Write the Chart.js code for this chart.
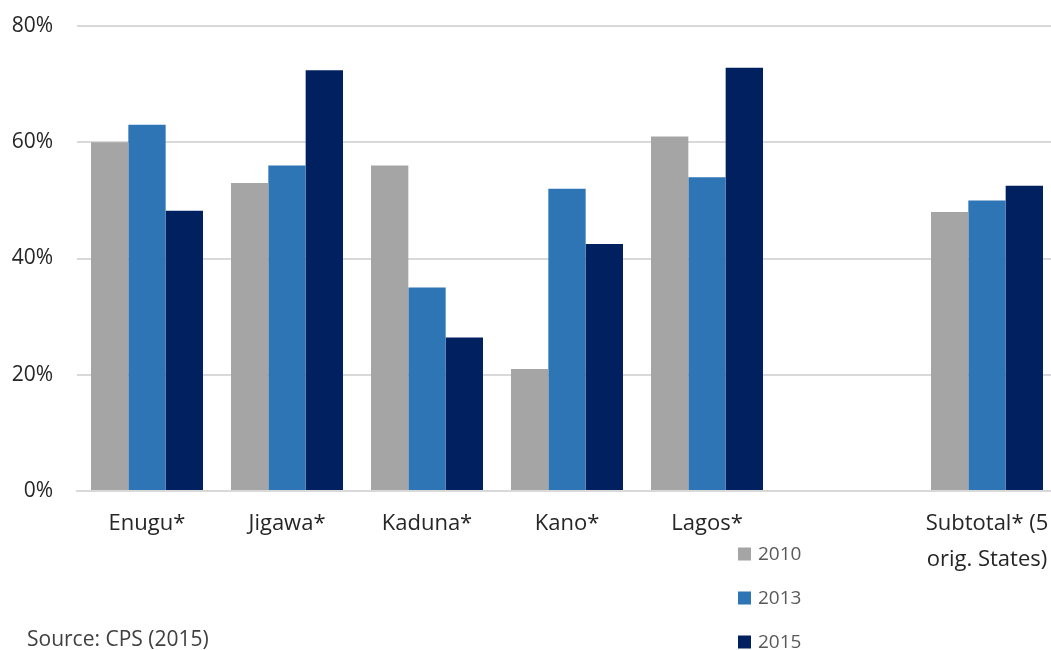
<!DOCTYPE html>
<html>
<head>
<meta charset="utf-8">
<script src="https://cdn.jsdelivr.net/npm/chart.js@4"></script>
<style>
  html, body { margin: 0; padding: 0; background: #fff; overflow: hidden; }
  #wrap { position: relative; width: 1051px; height: 650px; overflow: hidden; }
  canvas { display: block; }
</style>
</head>
<body>
<div id="wrap"><canvas id="c" width="1060" height="650"></canvas></div>
<script>
const categories = ['Enugu*', 'Jigawa*', 'Kaduna*', 'Kano*', 'Lagos*', '', ['Subtotal* (5', 'orig. States)']];
const values2010 = [60, 53, 56, 21, 61, null, 48];
const values2013 = [63, 56, 35, 52, 54, null, 50];
const values2015 = [48.2, 72.4, 26.4, 42.5, 72.8, null, 52.5];
const seriesLabels = ['2010', '2013', '2015'];
const seriesColors = ['#a5a5a5', '#2e75b6', '#002060'];
const yTicks = [0, 20, 40, 60, 80];
const sourceText = 'Source: CPS (2015)';

const FONT = "'Open Sans', 'Noto Sans', sans-serif";

const legendPlugin = {
  id: 'customLegend',
  afterDraw(chart) {
    const ctx = chart.ctx;
    ctx.save();
    ctx.font = '19px ' + FONT;
    ctx.textBaseline = 'middle';
    ctx.textAlign = 'left';
    chart.data.datasets.forEach((ds, i) => {
      const cy = 554 + i * 44;
      ctx.fillStyle = ds.backgroundColor;
      ctx.fillRect(738, cy - 6.5, 13, 13);
      ctx.fillStyle = '#595959';
      ctx.fillText(ds.label, 758, cy + 1);
    });
    ctx.font = '21px ' + FONT;
    ctx.fillStyle = '#404040';
    ctx.fillText(sourceText, 27, 640);
    ctx.restore();
  }
};

new Chart(document.getElementById('c'), {
  type: 'bar',
  data: {
    labels: categories,
    datasets: [
      { label: seriesLabels[0], data: values2010, backgroundColor: seriesColors[0] },
      { label: seriesLabels[1], data: values2013, backgroundColor: seriesColors[1] },
      { label: seriesLabels[2], data: values2015, backgroundColor: seriesColors[2] }
    ]
  },
  options: {
    responsive: false,
    animation: false,
    devicePixelRatio: 1,
    layout: { padding: { top: 26, right: 3, left: 0, bottom: 0 } },
    datasets: { bar: { barPercentage: 1, categoryPercentage: 0.8 } },
    plugins: { legend: { display: false }, tooltip: { enabled: false }, title: { display: false } },
    scales: {
      x: {
        grid: { display: false, drawTicks: false },
        border: { display: true, color: '#d9d9d9', width: 2 },
        ticks: {
          autoSkip: false, maxRotation: 0, minRotation: 0, padding: 15,
          color: '#262626',
          font: { family: FONT, size: 22, lineHeight: 36 / 22 }
        },
        afterFit(scale) {
          scale.height = 159; scale.paddingTop = 0;
          scale.paddingLeft = 0; scale.paddingRight = 0;
        }
      },
      y: {
        min: 0, max: 80,
        afterBuildTicks(scale) { scale.ticks = yTicks.map(v => ({ value: v })); },
        grid: { color: '#d9d9d9', lineWidth: 2, drawTicks: false },
        border: { display: false },
        ticks: {
          padding: 24, color: '#262626',
          font: { family: FONT, size: 21 },
          callback: v => v + '%'
        },
        afterFit(scale) { scale.width = 77; scale.paddingTop = 0; }
      }
    }
  },
  plugins: [legendPlugin]
});
</script>
</body>
</html>
